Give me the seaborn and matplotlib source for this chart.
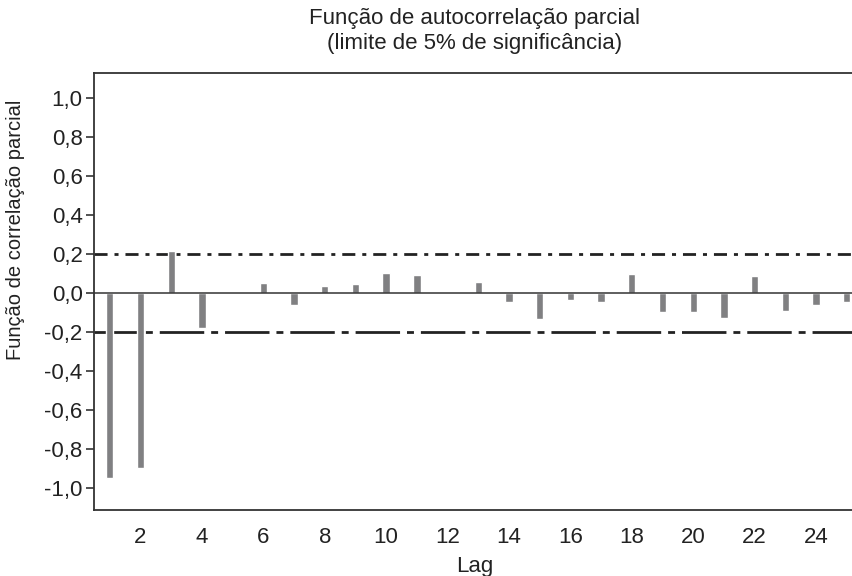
import numpy as np
import pandas as pd
import matplotlib
matplotlib.use("Agg")
import matplotlib.pyplot as plt
from matplotlib.ticker import FuncFormatter
import seaborn as sns

# ---- Data ----
lags = list(range(1, 26))
pacf = [-0.95, -0.90, 0.215, -0.178, 0.0, 0.053, -0.060, 0.036, 0.048, 0.103,
        0.094, 0.0, 0.056, -0.045, -0.133, -0.036, -0.045, 0.097, -0.100, -0.100,
        -0.127, 0.087, -0.090, -0.060, -0.045]
limit = 0.2
y_ticks = [-1.0, -0.8, -0.6, -0.4, -0.2, 0.0, 0.2, 0.4, 0.6, 0.8, 1.0]
x_ticks = list(range(2, 25, 2))

df = pd.DataFrame({"Lag": lags, "PACF": pacf})

# ---- Style ----
sns.set_style("ticks")
plt.rcParams["font.family"] = ["Liberation Sans", "DejaVu Sans"]
plt.rcParams["lines.scale_dashes"] = False

fig = plt.figure(figsize=(8.53, 5.76), dpi=100)
ax = fig.add_axes([0.110, 0.1146, 0.892, 0.7586])

sns.barplot(data=df, x="Lag", y="PACF", native_scale=True, width=0.24,
            color="#808082", saturation=1, ax=ax, zorder=3)

# zero line and significance limits
ax.axhline(0, color="#333333", lw=1.1, zorder=4)
ax.axhline(limit, color="#222222", lw=2.0, linestyle=(0, (9.4, 5, 2.9, 5)), zorder=2)
ax.axhline(-limit, color="#222222", lw=2.0, linestyle=(0, (32, 5, 5, 5)), zorder=2)

ax.set_xlim(0.48, 25.26)
ax.set_ylim(-1.113, 1.128)
ax.set_xticks(x_ticks)
ax.set_yticks(y_ticks)
ax.yaxis.set_major_formatter(FuncFormatter(lambda v, p: f"{v:.1f}".replace(".", ",").replace("-0,0", "0,0")))

ax.tick_params(axis="x", length=0, pad=12, labelsize=16, colors="#222222")
ax.tick_params(axis="y", length=6, width=1.2, direction="out", labelsize=16, pad=2,
               colors="#333333", labelcolor="#222222")

for side in ["left", "top", "bottom"]:
    ax.spines[side].set_color("#333333")
    ax.spines[side].set_linewidth(1.3)
ax.spines["right"].set_visible(False)

ax.set_xlabel("Lag", fontsize=16, color="#222222")
ax.xaxis.set_label_coords(0.5, -0.105)
ax.set_ylabel("Função de correlação parcial", fontsize=14.5, color="#222222")
ax.yaxis.set_label_coords(-0.09, 0.641)
ax.set_title("Função de autocorrelação parcial\n(limite de 5% de significância)",
             fontsize=16, color="#222222", pad=17, linespacing=1.25)

fig.savefig("out.png", dpi=100)
